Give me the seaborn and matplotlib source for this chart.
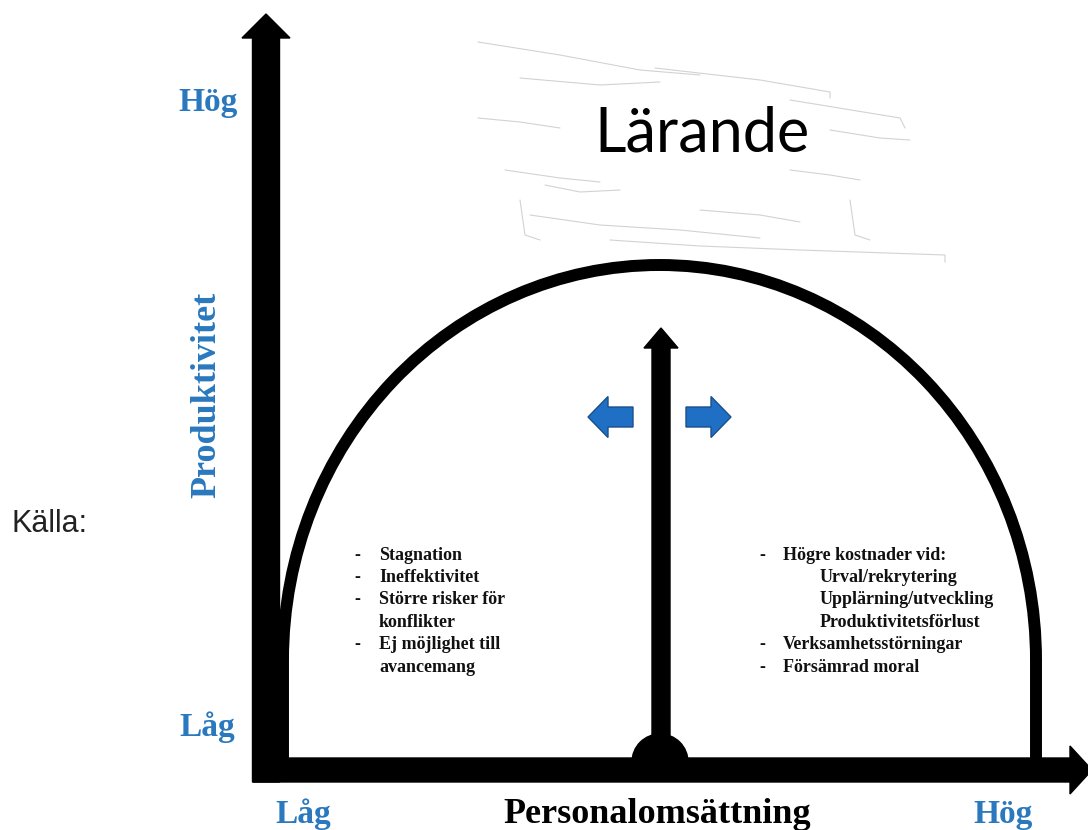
import matplotlib
matplotlib.use("Agg")
import matplotlib.pyplot as plt
import seaborn as sns
from matplotlib.patches import FancyArrow, Arc, Wedge

# diagram texts
y_label = "Produktivitet"
x_label = "Personalomsättning"
low_label = "Låg"
high_label = "Hög"
top_label = "Lärande"
source_label = "Källa:"

left_items = ["Stagnation", "Ineffektivitet", "Större risker för", "konflikter",
              "Ej möjlighet till", "avancemang"]
left_dash = [True, True, True, False, True, False]

right_items = ["Högre kostnader vid:", "Urval/rekrytering", "Upplärning/utveckling",
               "Produktivitetsförlust", "Verksamhetsstörningar", "Försämrad moral"]
right_dash = [True, False, False, False, True, True]
right_indent = [0, 1, 1, 1, 0, 0]

# style
sns.set_theme(style="white")
plt.rcParams['font.family'] = ['Liberation Serif', 'DejaVu Serif']
blue = '#2a78bd'
arrow_blue = '#1f6fc5'
serif = dict(family='Liberation Serif', weight='bold')

fig = plt.figure(figsize=(10.88, 8.30), dpi=100)
ax = fig.add_axes([0, 0, 1, 1])
ax.set_xlim(0, 1088)
ax.set_ylim(830, 0)
ax.axis('off')

# faint scribble behind the title
scribble = [
    [(478, 42), (560, 55), (640, 70), (700, 75)],
    [(520, 78), (600, 85), (660, 82)],
    [(655, 68), (760, 80), (830, 92), (830, 98)],
    [(790, 100), (900, 118), (905, 128)],
    [(478, 118), (520, 122), (560, 128)],
    [(830, 130), (880, 138), (910, 140)],
    [(505, 170), (560, 178), (600, 182)],
    [(790, 170), (830, 175), (860, 180)],
    [(545, 185), (580, 192), (620, 190)],
    [(700, 210), (760, 215), (800, 222)],
    [(530, 215), (600, 225), (680, 230), (760, 238)],
    [(610, 240), (700, 246), (800, 250), (945, 255), (945, 262)],
    [(520, 200), (525, 235), (540, 240)],
    [(850, 200), (855, 235), (870, 240)],
]
for line in scribble:
    xs, ys = zip(*line)
    ax.plot(xs, ys, color='#d2d2d2', lw=0.8, zorder=1)

# bell curve: half ellipse on two short vertical legs
ax.add_patch(Arc((659.5, 660), 753, 790, theta1=180, theta2=360,
                 lw=8.6, color='black', zorder=2))
for xl in (283, 1036):
    ax.plot([xl, xl], [659, 764], color='black', lw=8.6, solid_capstyle='butt', zorder=2)

# axes
ax.add_patch(FancyArrow(266, 782, 0, -768, width=27, head_width=48, head_length=24,
                        length_includes_head=True, color='black', zorder=3))
ax.add_patch(FancyArrow(253, 770, 839, 0, width=24, head_width=48, head_length=22,
                        length_includes_head=True, color='black', zorder=3))

# central arrow with dome
ax.add_patch(FancyArrow(661, 760, 0, -432, width=18, head_width=34, head_length=20,
                        length_includes_head=True, color='black', zorder=3))
ax.add_patch(Wedge((660, 762), 28, 180, 360, color='black', zorder=3))

# blue side arrows
for x0, dx in [(633, -45), (686, 45)]:
    ax.add_patch(FancyArrow(x0, 417, dx, 0, width=20, head_width=41, head_length=20,
                            length_includes_head=True, fc=arrow_blue, ec='#1b4f8a',
                            lw=1, zorder=3))

# axis labels
ax.text(208, 103, high_label, color=blue, fontsize=24, ha='center', va='center', **serif)
ax.text(207, 727, low_label, color=blue, fontsize=24, ha='center', va='center', **serif)
ax.text(207, 395, y_label, color=blue, fontsize=26, ha='center', va='center',
        rotation=90, **serif)
ax.text(303, 823, low_label, color=blue, fontsize=24, ha='center', va='baseline', **serif)
ax.text(1003, 823, high_label, color=blue, fontsize=24, ha='center', va='baseline', **serif)
ax.text(657, 823, x_label, color='black', fontsize=26, ha='center', va='baseline', **serif)

# title and source
ax.text(702, 152, top_label, color='black', fontsize=44, family='Lato',
        ha='center', va='baseline')
ax.text(11, 524, source_label, color='#222222', fontsize=22, family='Liberation Sans',
        ha='left', va='center')

# bullet lists
for i, (txt, dash) in enumerate(zip(left_items, left_dash)):
    y = 555 + i * 22.4
    if dash:
        ax.text(357, y, "-", fontsize=13, ha='center', va='center', color='#111111', **serif)
    ax.text(379, y, txt, fontsize=13, ha='left', va='center', color='#111111', **serif)

for i, (txt, dash, ind) in enumerate(zip(right_items, right_dash, right_indent)):
    y = 555 + i * 22.4
    if dash:
        ax.text(762, y, "-", fontsize=13, ha='center', va='center', color='#111111', **serif)
    ax.text(783 + ind * 37, y, txt, fontsize=13, ha='left', va='center',
            color='#111111', **serif)

fig.savefig("out.png", dpi=100, facecolor='white')
